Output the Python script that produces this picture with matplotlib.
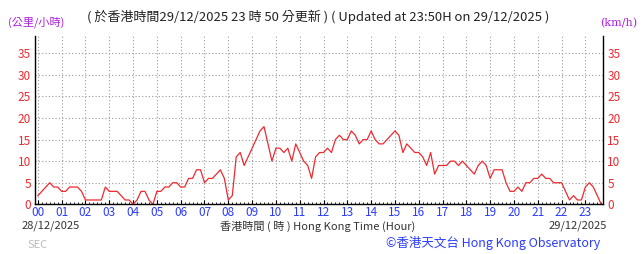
import numpy as np
import matplotlib
matplotlib.use("Agg")
import matplotlib.pyplot as plt

plt.rcParams['font.family'] = ['Noto Sans CJK TC', 'DejaVu Sans']

# 10-minute wind speed (km/h), one list per hour, 00..50 minutes
hour_00 = [2, 3, 4, 5, 4, 4]
hour_01 = [3, 3, 4, 4, 4, 3]
hour_02 = [1, 1, 1, 1, 1, 4]
hour_03 = [3, 3, 3, 2, 1, 1]
hour_04 = [0, 1, 3, 3, 1, 0]
hour_05 = [3, 3, 4, 4, 5, 5]
hour_06 = [4, 4, 6, 6, 8, 8]
hour_07 = [5, 6, 6, 7, 8, 6]
hour_08 = [1, 2, 11, 12, 9, 11]
hour_09 = [13, 15, 17, 18, 14, 10]
hour_10 = [13, 13, 12, 13, 10, 14]
hour_11 = [12, 10, 9, 6, 11, 12]
hour_12 = [12, 13, 12, 15, 16, 15]
hour_13 = [15, 17, 16, 14, 15, 15]
hour_14 = [17, 15, 14, 14, 15, 16]
hour_15 = [17, 16, 12, 14, 13, 12]
hour_16 = [12, 11, 9, 12, 7, 9]
hour_17 = [9, 9, 10, 10, 9, 10]
hour_18 = [9, 8, 7, 9, 10, 9]
hour_19 = [6, 8, 8, 8, 5, 3]
hour_20 = [3, 4, 3, 5, 5, 6]
hour_21 = [6, 7, 6, 6, 5, 5]
hour_22 = [5, 3, 1, 2, 1, 1]
hour_23 = [4, 5, 4, 2, 0]

speeds = (hour_00 + hour_01 + hour_02 + hour_03 + hour_04 + hour_05 + hour_06 +
          hour_07 + hour_08 + hour_09 + hour_10 + hour_11 + hour_12 + hour_13 +
          hour_14 + hour_15 + hour_16 + hour_17 + hour_18 + hour_19 + hour_20 +
          hour_21 + hour_22 + hour_23)
times = np.arange(len(speeds)) / 6.0

hour_labels = ["%02d" % h for h in range(24)]
y_ticks = [0, 5, 10, 15, 20, 25, 30, 35]

red = "#ee2a30"
blue = "#2b3cff"
purple = "#b020e0"

fig = plt.figure(figsize=(6.43, 2.54), dpi=100)
ax = fig.add_axes([35 / 643, 49.7 / 254, 568 / 643, 168.3 / 254])

ax.plot(times, speeds, color=red, lw=0.9)

ax.set_xlim(-0.12, 23.74)
ax.set_ylim(0, 39)
ax.set_xticks(range(24))
ax.set_xticklabels(hour_labels, color=blue, fontsize=8.5)
ax.set_xticks(np.arange(0, 23.75, 1 / 6.0), minor=True)
ax.set_yticks(y_ticks)
ax.set_yticklabels([str(v) for v in y_ticks], color=red, fontsize=8.5)
ax.tick_params(axis='x', which='major', length=3, pad=1, direction='in')
ax.tick_params(axis='x', which='minor', length=1.5, direction='in')
ax.tick_params(axis='y', length=0, pad=3, labelright=True, right=False)
ax.grid(True, which='major', linestyle=(0, (1, 2)), color='#9a9a9a', lw=0.8)
ax.spines['top'].set_visible(False)
for s in ['left', 'right', 'bottom']:
    ax.spines[s].set_color('black')
    ax.spines[s].set_linewidth(1.0)

fig.text(8 / 643, 1 - 22 / 254, "(公里/小時)", color=purple, fontsize=8, va='center')
fig.text(600 / 643, 1 - 23 / 254, "(km/h)", color=purple, fontsize=8, va='center',
         family='DejaVu Serif')
fig.text(87 / 643, 1 - 17 / 254,
         "( 於香港時間29/12/2025 23 時 50 分更新 ) ( Updated at 23:50H on 29/12/2025 )",
         color='#222222', fontsize=9.4, va='center')

fig.text(22 / 643, 1 - 226 / 254, "28/12/2025", color='#333333', fontsize=8, va='center')
fig.text(607 / 643, 1 - 226 / 254, "29/12/2025", color='#333333', fontsize=8,
         va='center', ha='right')
fig.text(318 / 643, 1 - 226 / 254, "香港時間 ( 時 ) Hong Kong Time (Hour)",
         color='#333333', fontsize=8, va='center', ha='center')
fig.text(28 / 643, 1 - 245 / 254, "SEC", color='#bbbbbb', fontsize=8, va='center')
fig.text(600 / 643, 1 - 243 / 254, "©香港天文台 Hong Kong Observatory", color=blue,
         fontsize=9, va='center', ha='right')

fig.savefig("out.png", dpi=100)
